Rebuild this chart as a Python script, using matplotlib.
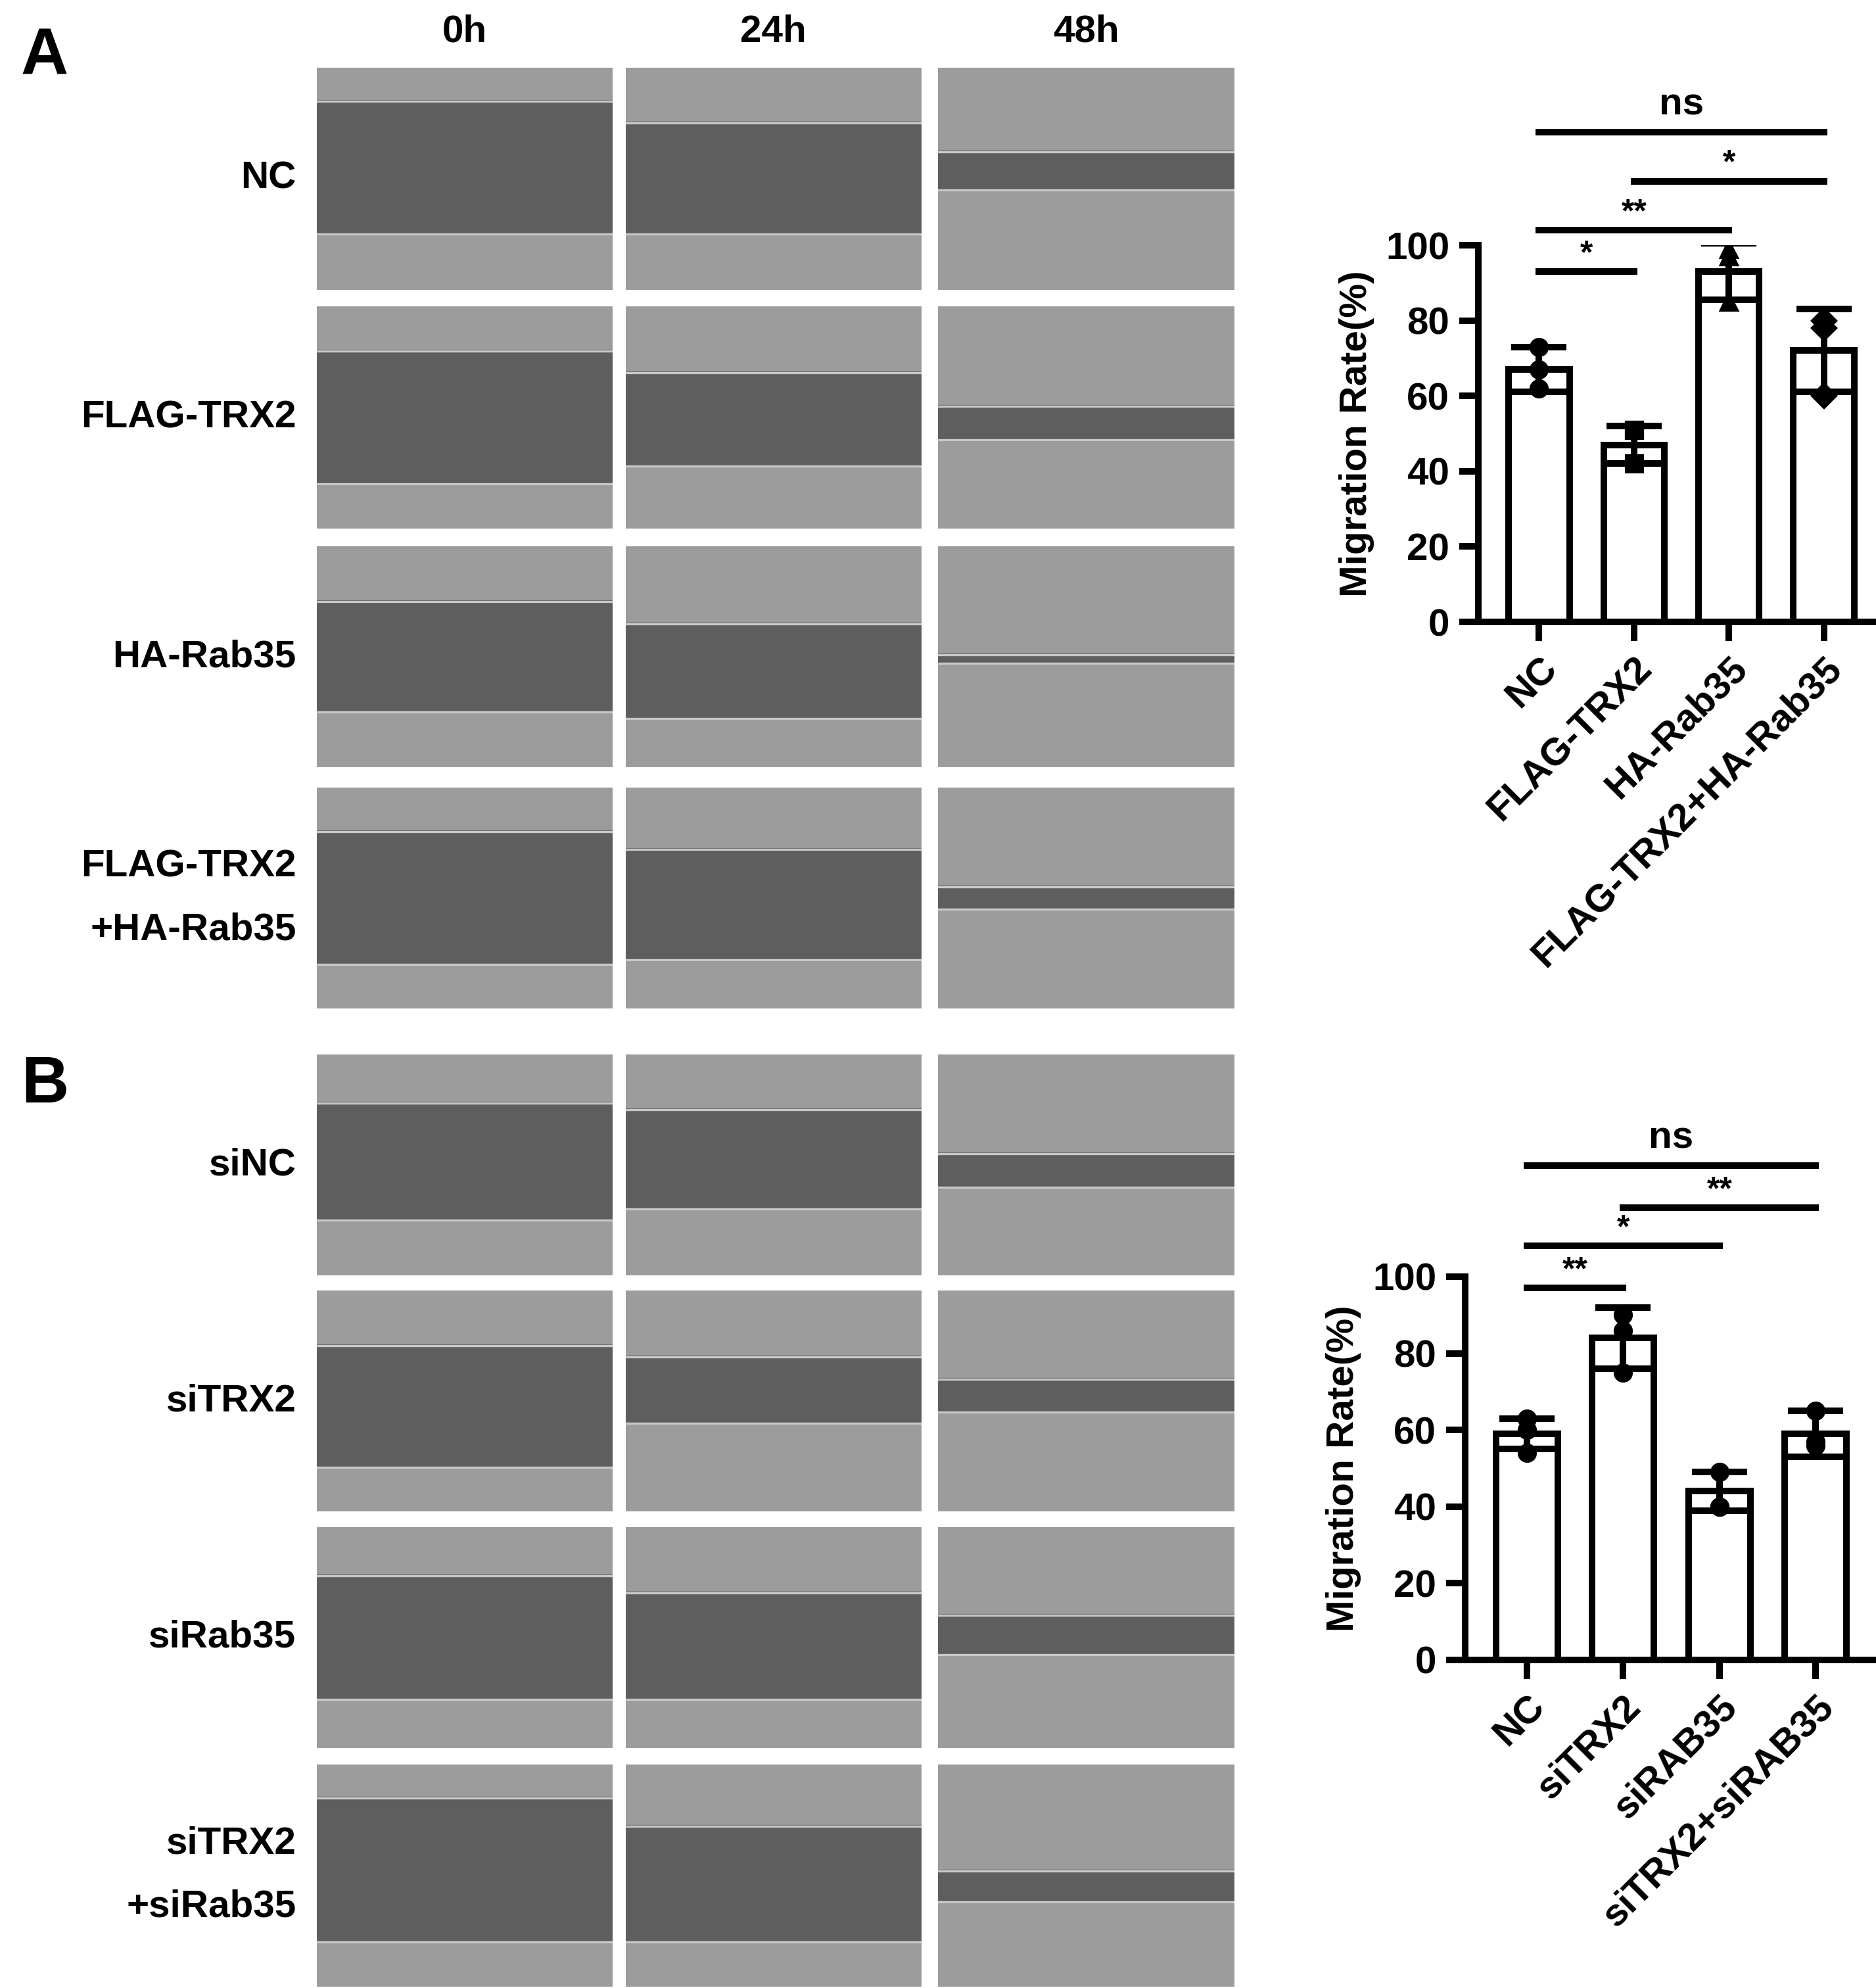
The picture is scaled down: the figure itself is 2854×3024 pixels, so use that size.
import matplotlib
matplotlib.use("Agg")
import matplotlib.pyplot as plt
from matplotlib.patches import Rectangle

plt.rcParams['font.family'] = ['Liberation Sans', 'DejaVu Sans']
plt.rcParams['font.weight'] = 'bold'

W, H = 2854, 3024
fig = plt.figure(figsize=(W/300, H/300), dpi=300)

def ax_px(x0, y0, x1, y1):
    return fig.add_axes([x0/W, 1-y1/H, (x1-x0)/W, (y1-y0)/H])

# ---------------- data ----------------
time_labels = ["0h", "24h", "48h"]
rows_A = ["NC", "FLAG-TRX2", "HA-Rab35", "FLAG-TRX2\n+HA-Rab35"]
rows_B = ["siNC", "siTRX2", "siRab35", "siTRX2\n+siRab35"]
# wound gap (top, bottom) as fraction of panel height, per row x time
gaps_A = [[(0.15, 0.75), (0.25, 0.75), (0.38, 0.55)],
          [(0.20, 0.80), (0.30, 0.72), (0.45, 0.60)],
          [(0.25, 0.75), (0.35, 0.78), (0.49, 0.53)],
          [(0.20, 0.80), (0.28, 0.78), (0.45, 0.55)]]
gaps_B = [[(0.22, 0.75), (0.25, 0.70), (0.45, 0.60)],
          [(0.25, 0.80), (0.30, 0.60), (0.40, 0.55)],
          [(0.22, 0.78), (0.30, 0.78), (0.40, 0.58)],
          [(0.15, 0.80), (0.28, 0.80), (0.48, 0.62)]]

cats_A = ["NC", "FLAG-TRX2", "HA-Rab35", "FLAG-TRX2+HA-Rab35"]
mean_A = [67, 47, 93, 72]
sd_A = [6, 5, 7.5, 11]
pts_A = [[73, 62, 67], [51, 51, 42], [99, 97, 85], [80, 78, 60]]
markers_A = ["o", "s", "^", "D"]
sig_A = [(0, 3, 130, "ns"), (1, 3, 117, "*"), (0, 2, 104, "**"), (0, 1, 93, "*")]

cats_B = ["NC", "siTRX2", "siRAB35", "siTRX2+siRAB35"]
mean_B = [59, 84, 44, 59]
sd_B = [4, 8, 5, 6]
pts_B = [[63, 60, 54], [90, 86, 75], [49, 40, 40], [65, 57, 56]]
markers_B = ["o", "o", "o", "o"]
sig_B = [(0, 3, 129, "ns"), (1, 3, 118, "**"), (0, 2, 108, "*"), (0, 1, 97, "**")]

# ---------------- micrograph panels ----------------
f = 1.942
col_x = [(248, 480), (490, 722), (735, 967)]
rows_yA = [(53, 227), (240, 414), (428, 601), (617, 790)]
rows_yB = [(826, 999), (1011, 1184), (1196, 1369), (1382, 1556)]

def panels(rows_y, gaps, labels):
    for r, (y0, y1) in enumerate(rows_y):
        for c, (x0, x1) in enumerate(col_x):
            a = ax_px(x0*f, y0*f, x1*f, y1*f)
            a.set_xlim(0, 1); a.set_ylim(1, 0); a.axis('off')
            a.add_patch(Rectangle((0, 0), 1, 1, color="#9c9c9c"))
            t, b = gaps[r][c]
            a.add_patch(Rectangle((0, t), 1, b-t, color="#5e5e5e"))
            a.plot([0, 1], [t, t], color="#c8c8c8", lw=0.8)
            a.plot([0, 1], [b, b], color="#c8c8c8", lw=0.8)
        lab = labels[r]
        fig.text(232*f/W, 1-((y0+y1)/2)*f/H, lab, ha='right', va='center',
                 fontsize=14, fontweight='bold', linespacing=2.0)

panels(rows_yA, gaps_A, rows_A)
panels(rows_yB, gaps_B, rows_B)
for (x0, x1), t in zip(col_x, time_labels):
    fig.text((x0+x1)/2*f/W, 1-25*f/H, t, ha='center', va='center', fontsize=14, fontweight='bold')
fig.text(35*f/W, 1-45*f/H, "A", ha='center', va='center', fontsize=24, fontweight='heavy')
fig.text(35*f/W, 1-850*f/H, "B", ha='center', va='center', fontsize=24, fontweight='heavy')

# ---------------- bar charts ----------------
def bar_chart(px, cats, mean, sd, pts, markers, sig):
    a = ax_px(*px)
    xs = list(range(len(cats)))
    a.bar(xs, mean, width=0.64, color='white', edgecolor='black', linewidth=2.4, zorder=2)
    a.errorbar(xs, mean, yerr=sd, fmt='none', ecolor='black', elinewidth=2.4,
               capsize=10, capthick=2.4, zorder=3)
    for x, p, m in zip(xs, pts, markers):
        a.plot([x]*len(p), p, ls='none', marker=m, color='black', ms=6, zorder=4)
    for i, j, y, s in sig:
        a.plot([i, j], [y, y], color='black', lw=2.4, clip_on=False)
        a.text((i+j)/2, y+2.5 if s == "ns" else y+0.5, s, ha='center', va='bottom',
               fontsize=14 if s == "ns" else 12, fontweight='bold')
    a.set_xlim(-0.64, 3.66)
    a.set_ylim(0, 100)
    a.set_yticks([0, 20, 40, 60, 80, 100])
    a.set_xticks(xs)
    a.set_xticklabels(cats, rotation=45, ha='right', rotation_mode='anchor')
    for sp in ['top', 'right']:
        a.spines[sp].set_visible(False)
    for sp in ['left', 'bottom']:
        a.spines[sp].set_linewidth(2.4)
    a.tick_params(width=2.4, length=7, labelsize=14)
    for lbl in a.get_xticklabels() + a.get_yticklabels():
        lbl.set_fontweight('bold')
    a.set_ylabel("Migration Rate(%)", fontsize=14, fontweight='bold', labelpad=4)

bar_chart((2249, 373, 2870, 946), cats_A, mean_A, sd_A, pts_A, markers_A, sig_A)
bar_chart((2229, 1942, 2859, 2525), cats_B, mean_B, sd_B, pts_B, markers_B, sig_B)

fig.savefig("out.png", dpi=300, facecolor='white')
